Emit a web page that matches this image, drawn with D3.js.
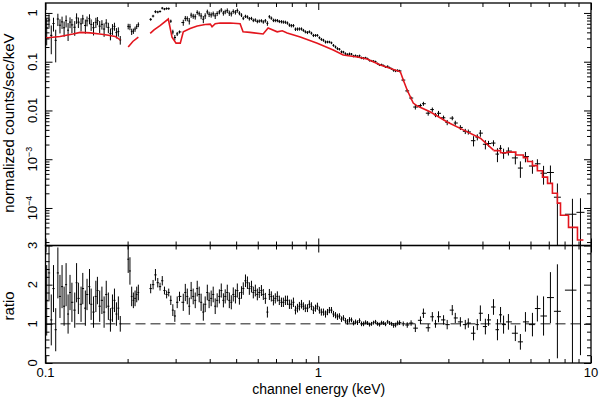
<!DOCTYPE html>
<html>
<head>
<meta charset="utf-8">
<script src="https://cdn.jsdelivr.net/npm/d3@7"></script>
<style>
body { margin: 0; background: #fff; }
text { font-family: "Liberation Sans", Arial, Helvetica, sans-serif; fill: #000; }
</style>
</head>
<body>
<div id="canvas"></div>
<script>
// model curve (red), smooth part; null = no channels there
var modelE = [0.100, 0.113, 0.126, 0.134, 0.146, 0.158, 0.168, 0.180, 0.188, null,
  0.201, 0.209, 0.219, null,
  0.242, 0.250, 0.263, 0.282, 0.291, 0.301, 0.312, 0.320, 0.339, 0.360,
  0.385, 0.402, 0.408, 0.419, 0.437, 0.475, 0.517, 0.530, 0.562, 0.628,
  0.655, 0.707, 0.738, 0.769, 0.859, 0.992, 1.135, 1.235, 1.39, 1.51,
  1.69, 2.00, 2.05, 2.12, 2.23, 2.31, 2.58, 2.97, 3.40, 3.93, 4.39];
var modelV = [0.307, 0.33, 0.37, 0.40, 0.39, 0.37, 0.353, 0.33, 0.28, null,
  0.200, 0.26, 0.32, null,
  0.38, 0.45, 0.55, 0.75, 0.32, 0.24, 0.24, 0.41, 0.48, 0.54,
  0.58, 0.59, 0.52, 0.60, 0.62, 0.62, 0.60, 0.41, 0.40, 0.37,
  0.49, 0.41, 0.43, 0.39, 0.32, 0.24, 0.174, 0.137, 0.125, 0.114,
  0.086, 0.062, 0.042, 0.026, 0.0142, 0.0123, 0.0093, 0.0058, 0.0040, 0.0027, 0.00154];

// model at high energy, drawn as channel steps (edges + one value per channel)
var stepE = [4.39, 4.66, 4.94, 5.30, 5.65, 5.85, 6.10, 6.36, 6.64, 6.93, 7.22, 7.53, 7.73, 8.27, 8.92, 9.38];
var stepV = [1.50e-3, 1.36e-3, 1.40e-3, 1.22e-3, 1.08e-3, 9.0e-4, 7.4e-4, 5.8e-4, 4.3e-4, 3.2e-4, 2.0e-4, 1.26e-4, 7.1e-5, 4.0e-5, 2.2e-5];

// data channels: energy (keV), data/model ratio and its error
var dataE = [0.101, 0.103, 0.105, 0.107, 0.109, 0.111, 0.113, 0.115, 0.117, 0.119, 0.121, 0.123,
  0.125, 0.128, 0.130, 0.132, 0.135, 0.137, 0.140, 0.142, 0.145, 0.147, 0.150, 0.153,
  0.155, 0.158, 0.161, 0.164, 0.167, 0.170, 0.173, 0.176, 0.179, 0.182, 0.185, 0.188,
  0.201, 0.204, 0.207, 0.210, 0.213, 0.216, 0.219,
  0.243, 0.248, 0.253, 0.258, 0.263, 0.268, 0.273, 0.278, 0.283, 0.288, 0.293, 0.298, 0.304, 0.310,
  0.320, 0.3255, 0.331, 0.3366, 0.342, 0.348, 0.354, 0.360, 0.366, 0.372, 0.379, 0.385, 0.392, 0.398,
  0.405, 0.412, 0.419, 0.426, 0.434, 0.441, 0.449, 0.456, 0.464, 0.472, 0.480, 0.488, 0.497, 0.505,
  0.514, 0.523, 0.531, 0.541, 0.550, 0.559, 0.569, 0.578, 0.588, 0.598, 0.608, 0.619, 0.629, 0.640,
  0.651, 0.662, 0.673, 0.685, 0.696, 0.708, 0.720, 0.733, 0.745, 0.758, 0.771, 0.784, 0.797, 0.811,
  0.825, 0.839, 0.853, 0.868, 0.882, 0.897, 0.913, 0.928, 0.944, 0.960, 0.977, 0.993, 1.010, 1.027,
  1.045, 1.063, 1.081, 1.099, 1.118, 1.137, 1.157, 1.176, 1.196, 1.217, 1.237, 1.258, 1.280, 1.302,
  1.324, 1.347, 1.370, 1.393, 1.417, 1.441, 1.466, 1.491, 1.516, 1.542, 1.568, 1.595, 1.622, 1.650,
  1.678, 1.707, 1.736, 1.765, 1.796, 1.826, 1.857, 1.889, 1.921, 1.954, 1.987,
  2.05, 2.12, 2.19, 2.27, 2.37, 2.43, 2.53, 2.62, 2.69, 2.76, 2.88, 2.97, 3.10, 3.18, 3.32, 3.46,
  3.55, 3.71, 3.83, 3.93, 4.10, 4.21, 4.39, 4.54, 4.66, 4.78, 4.98, 5.28, 5.51, 5.75, 6.10, 6.36,
  6.70, 7.10, 7.53, 8.55, 9.15];
var ratio = [1.6, 2.3, 1.1, 1.9, 0.85, 2.3, 1.7, 1.95, 1.45, 2.0, 1.25, 1.8,
  1.55, 1.35, 2.05, 1.65, 1.5, 1.9, 1.4, 1.75, 1.95, 1.5, 1.3, 1.7,
  1.85, 1.45, 1.6, 1.3, 1.75, 1.45, 1.1, 1.4, 1.6, 1.25, 1.4, 1.0,
  2.65, 2.35, 1.7, 1.6, 1.65, 1.75, 1.8,
  1.9, 2.0, 2.25, 2.05, 1.95, 2.1, 1.85, 1.75, 1.8, 1.6, 1.35, 1.2, 1.55, 1.7,
  1.55, 1.8, 1.7, 1.45, 1.85, 1.7, 1.6, 1.9, 1.75, 1.55, 1.3, 1.5, 1.8, 1.6,
  1.65, 1.75, 1.45, 1.6, 1.7, 1.85, 1.6, 1.7, 1.8, 1.6, 1.55, 1.75, 1.7, 1.85,
  1.65, 1.8, 1.9, 2.1, 2.05, 1.9, 1.95, 1.8, 1.85, 1.75, 1.8, 1.85, 1.75, 1.65,
  1.3, 1.75, 1.7, 1.6, 1.65, 1.7, 1.6, 1.55, 1.55, 1.6, 1.6, 1.5, 1.5, 1.55,
  1.35, 1.4, 1.45, 1.5, 1.45, 1.4, 1.4, 1.5, 1.45, 1.35, 1.4, 1.45, 1.35, 1.3,
  1.3, 1.25, 1.3, 1.35, 1.35, 1.25, 1.22, 1.18, 1.2, 1.12, 1.15, 1.08, 1.05, 1.1,
  1.1, 1.02, 1.05, 1.03, 1.08, 1.0, 1.0, 1.04, 1.02, 0.98, 1.0, 1.03, 1.05, 1.0,
  0.98, 1.03, 1.02, 0.99, 1.05, 1.02, 1.0, 0.96, 0.97, 1.02, 1.03,
  1.0, 0.97, 1.02, 0.89, 1.09, 1.27, 0.9, 1.18, 1.0, 1.18, 1.1, 0.98, 1.35, 1.15, 1.05, 0.98,
  1.02, 0.76, 0.98, 1.27, 0.93, 1.1, 1.43, 0.85, 1.23, 0.98, 1.05, 0.76, 0.54, 1.05, 0.98, 1.39,
  1.2, 1.67, 1.32, 1.86, 3.7];
var ratioErr = [0.9, 0.7, 0.65, 0.6, 0.55, 0.65, 0.55, 0.55, 0.5, 0.55, 0.5, 0.45,
  0.5, 0.45, 0.5, 0.4, 0.45, 0.4, 0.45, 0.4, 0.45, 0.4, 0.4, 0.4,
  0.35, 0.4, 0.35, 0.4, 0.35, 0.35, 0.3, 0.35, 0.3, 0.3, 0.3, 0.2,
  0.35, 0.35, 0.25, 0.2, 0.2, 0.2, 0.2,
  0.12, 0.12, 0.15, 0.12, 0.1, 0.12, 0.1, 0.1, 0.1, 0.12, 0.15, 0.15, 0.15, 0.12,
  0.22, 0.22, 0.2, 0.22, 0.22, 0.2, 0.2, 0.2, 0.2, 0.22, 0.22, 0.2, 0.2, 0.2,
  0.2, 0.2, 0.2, 0.18, 0.18, 0.18, 0.18, 0.18, 0.2, 0.2, 0.18, 0.18, 0.18, 0.18,
  0.16, 0.16, 0.16, 0.16, 0.16, 0.16, 0.15, 0.15, 0.15, 0.15, 0.14, 0.14, 0.14, 0.14,
  0.14, 0.14, 0.13, 0.13, 0.13, 0.13, 0.12, 0.12, 0.12, 0.12, 0.12, 0.12, 0.12, 0.12,
  0.11, 0.11, 0.11, 0.11, 0.1, 0.1, 0.1, 0.1, 0.1, 0.1, 0.09, 0.09, 0.09, 0.09,
  0.09, 0.09, 0.08, 0.08, 0.08, 0.08, 0.08, 0.08, 0.07, 0.07, 0.07, 0.07, 0.07, 0.07,
  0.06, 0.06, 0.06, 0.06, 0.06, 0.06, 0.06, 0.05, 0.05, 0.05, 0.05, 0.05, 0.05, 0.05,
  0.05, 0.05, 0.05, 0.05, 0.05, 0.05, 0.05, 0.06, 0.06, 0.06, 0.06,
  0.06, 0.07, 0.07, 0.1, 0.1, 0.12, 0.1, 0.12, 0.1, 0.14, 0.12, 0.12, 0.13, 0.13, 0.12, 0.12,
  0.12, 0.18, 0.14, 0.2, 0.2, 0.15, 0.2, 0.27, 0.2, 0.23, 0.2, 0.2, 0.2, 0.25, 0.3, 0.33,
  0.5, 0.65, 1.2, 2.0, 3.5];

// ticks and labels
var xMajor = [0.1, 1, 10];
var xLabels = ['0.1', '1', '10'];
var yMajor = [1, 0.1, 0.01, 1e-3, 1e-4];
var yLabels = [['1'], ['0.1'], ['0.01'], ['10', '\u22123'], ['10', '\u22124']];
var rMajor = [0, 1, 2, 3];
var rLabels = ['0', '1', '2', '3'];

var W = 600, H = 399;
var L = 45.5, R = 591, T1 = 3, B1 = 245.5, B2 = 363;

var svg = d3.select('#canvas').append('svg')
  .attr('width', W)
  .attr('height', H);

var x = d3.scaleLog().domain([0.1, 10]).range([L, R]);
var yTop = d3.scaleLog().domain([1.7e-5, 1.6]).range([B1, T1]);
var yRat = d3.scaleLinear().domain([0, 3]).range([B2, B1]);

// model value at a channel energy (the drawn model: log-linear between vertices, steps at high E)
var modelPts = modelE.map(function(e, i) { return {e: e, v: modelV[i]}; });
var modelDef = modelPts.filter(function(p) { return p.v != null; });
var bis = d3.bisector(function(p) { return p.e; }).right;
function modelAt(e) {
  if (e >= stepE[0]) {
    var k = Math.min(d3.bisectRight(stepE, e) - 1, stepV.length - 1);
    return stepV[k];
  }
  var i = bis(modelDef, e);
  if (i <= 0) return modelDef[0].v;
  if (i >= modelDef.length) return modelDef[modelDef.length - 1].v;
  var a = modelDef[i - 1], b = modelDef[i];
  var t = Math.log(e / a.e) / Math.log(b.e / a.e);
  return Math.exp(Math.log(a.v) + t * Math.log(b.v / a.v));
}

var pts = dataE.map(function(e, i) {
  var dl = i > 0 ? Math.log(e / dataE[i - 1]) : null;
  var dh = i < dataE.length - 1 ? Math.log(dataE[i + 1] / e) : null;
  if (dl == null) dl = dh;
  if (dh == null) dh = dl;
  if (dl > 2 * dh) dl = dh;
  if (dh > 2 * dl) dh = dl;
  var m = modelAt(e);
  return {
    e: e,
    lo: e * Math.exp(-dl / 2),
    hi: e * Math.exp(dh / 2),
    r: ratio[i],
    re: ratioErr[i],
    f: ratio[i] * m,
    fe: ratioErr[i] * m
  };
});

// clip paths
var defs = svg.append('defs');
defs.append('clipPath').attr('id', 'clipTop').append('rect')
  .attr('x', L).attr('y', T1).attr('width', R - L).attr('height', B1 - T1);
defs.append('clipPath').attr('id', 'clipRat').append('rect')
  .attr('x', L).attr('y', B1).attr('width', R - L).attr('height', B2 - B1);

// ---- top panel
var specPlot = svg.append('g').attr('clip-path', 'url(#clipTop)');

specPlot.selectAll('.hbar').data(pts).enter().append('line')
  .attr('x1', function(d) { return x(d.lo); })
  .attr('x2', function(d) { return x(d.hi); })
  .attr('y1', function(d) { return yTop(d.f); })
  .attr('y2', function(d) { return yTop(d.f); })
  .style('stroke', '#000').style('stroke-width', 1);

specPlot.selectAll('.vbar').data(pts).enter().append('line')
  .attr('x1', function(d) { return x(d.e); })
  .attr('x2', function(d) { return x(d.e); })
  .attr('y1', function(d) { return yTop(Math.max(d.f - d.fe, 1e-7)); })
  .attr('y2', function(d) { return yTop(d.f + d.fe); })
  .style('stroke', '#000').style('stroke-width', 1);

var modelLine = d3.line()
  .defined(function(d) { return d.v != null; })
  .x(function(d) { return x(d.e); })
  .y(function(d) { return yTop(d.v); });

specPlot.append('path').datum(modelPts)
  .attr('d', modelLine)
  .style('fill', 'none').style('stroke', '#e3161e').style('stroke-width', 1.6);

var stepPts = stepE.map(function(e, i) { return {e: e, v: stepV[Math.min(i, stepV.length - 1)]}; });
specPlot.append('path').datum(stepPts)
  .attr('d', modelLine.curve(d3.curveStepAfter))
  .style('fill', 'none').style('stroke', '#e3161e').style('stroke-width', 1.6);

// ---- ratio panel
var ratPlot = svg.append('g').attr('clip-path', 'url(#clipRat)');

ratPlot.append('line')
  .attr('x1', x(0.1)).attr('x2', x(10))
  .attr('y1', yRat(1)).attr('y2', yRat(1))
  .style('stroke', '#666').style('stroke-width', 1.5)
  .style('stroke-dasharray', '10,5');

ratPlot.selectAll('.hbar').data(pts).enter().append('line')
  .attr('x1', function(d) { return x(d.lo); })
  .attr('x2', function(d) { return x(d.hi); })
  .attr('y1', function(d) { return yRat(d.r); })
  .attr('y2', function(d) { return yRat(d.r); })
  .style('stroke', '#000').style('stroke-width', 1);

ratPlot.selectAll('.vbar').data(pts).enter().append('line')
  .attr('x1', function(d) { return x(d.e); })
  .attr('x2', function(d) { return x(d.e); })
  .attr('y1', function(d) { return yRat(d.r - d.re); })
  .attr('y2', function(d) { return yRat(d.r + d.re); })
  .style('stroke', '#000').style('stroke-width', 1);

// ---- frames and inward ticks
svg.append('rect').attr('x', L).attr('y', T1).attr('width', R - L).attr('height', B1 - T1)
  .style('fill', 'none').style('stroke', '#000').style('stroke-width', 1.3);
svg.append('rect').attr('x', L).attr('y', B1).attr('width', R - L).attr('height', B2 - B1)
  .style('fill', 'none').style('stroke', '#000').style('stroke-width', 1.3);

var xMinor = x.ticks().filter(function(v) { return xMajor.indexOf(v) < 0; });
var yMinor = yTop.ticks().filter(function(v) {
  return yMajor.every(function(m) { return Math.abs(v / m - 1) > 1e-6; });
});
var rMinor = d3.range(0, 3.001, 0.2).filter(function(v) { return Math.abs(v - Math.round(v)) > 1e-6; });

function ticks(axis, pos, vals, size) {
  var g = svg.append('g').attr('transform', pos)
    .call(axis.tickValues(vals).tickSize(-size).tickFormat(''));
  g.select('.domain').remove();
  g.selectAll('line').style('stroke', '#000').style('stroke-width', 1);
}

[[d3.axisTop, T1], [d3.axisBottom, B1], [d3.axisTop, B1], [d3.axisBottom, B2]].forEach(function(a) {
  ticks(a[0](x), 'translate(0,' + a[1] + ')', xMajor, 7);
  ticks(a[0](x), 'translate(0,' + a[1] + ')', xMinor, 4);
});
[[d3.axisLeft, L], [d3.axisRight, R]].forEach(function(a) {
  ticks(a[0](yTop), 'translate(' + a[1] + ',0)', yMajor, 7);
  ticks(a[0](yTop), 'translate(' + a[1] + ',0)', yMinor, 4);
  ticks(a[0](yRat), 'translate(' + a[1] + ',0)', rMajor, 7);
  ticks(a[0](yRat), 'translate(' + a[1] + ',0)', rMinor, 4);
});

// ---- tick labels
svg.selectAll('.xlab').data(xMajor).enter().append('text')
  .attr('x', function(d) { return x(d); })
  .attr('y', 377)
  .attr('text-anchor', 'middle')
  .style('font-size', '13px')
  .text(function(d, i) { return xLabels[i]; });

var yl = svg.selectAll('.ylab').data(yMajor).enter().append('text')
  .attr('transform', function(d) { return 'translate(37,' + yTop(d) + ') rotate(-90)'; })
  .attr('text-anchor', 'middle')
  .style('font-size', '13px');
yl.append('tspan').text(function(d, i) { return yLabels[i][0]; });
yl.filter(function(d, i) { return yLabels[i].length > 1; })
  .append('tspan')
  .attr('dy', -5)
  .style('font-size', '9px')
  .text(function(d) { return yLabels[yMajor.indexOf(d)][1]; });

svg.selectAll('.rlab').data(rMajor).enter().append('text')
  .attr('transform', function(d) { return 'translate(37,' + yRat(d) + ') rotate(-90)'; })
  .attr('text-anchor', 'middle')
  .style('font-size', '13px')
  .text(function(d, i) { return rLabels[i]; });

// ---- axis titles
svg.append('text')
  .attr('x', (L + R) / 2 + 0.5).attr('y', 394)
  .attr('text-anchor', 'middle')
  .style('font-size', '14px')
  .text('channel energy (keV)');

svg.append('text')
  .attr('transform', 'translate(14,123) rotate(-90)')
  .attr('text-anchor', 'middle')
  .style('font-size', '15px')
  .text('normalized counts/sec/keV');

svg.append('text')
  .attr('transform', 'translate(14,306) rotate(-90)')
  .attr('text-anchor', 'middle')
  .style('font-size', '15px')
  .text('ratio');
</script>
</body>
</html>
